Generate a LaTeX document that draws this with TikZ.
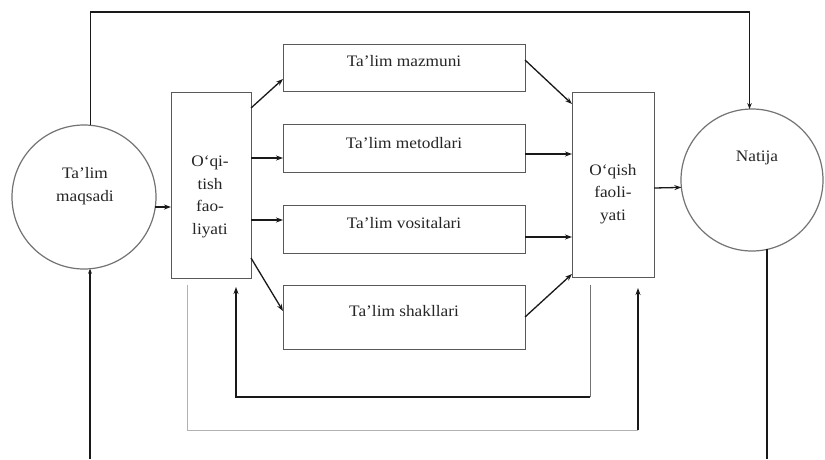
\documentclass[tikz,border=0pt]{standalone}
\usepackage{fontspec}
\setmainfont{Liberation Serif}[FakeStretch=1.08]
\usetikzlibrary{arrows.meta,calc}
\begin{document}
\begin{tikzpicture}[x=1pt,y=-1pt,
  txt/.style={font=\fontsize{16}{22.5}\selectfont, align=center, inner sep=0pt, text=black!85},
  boxn/.style={draw=black!65, line width=0.8pt, rectangle, inner sep=0pt, outer sep=0pt},
  circn/.style={draw=black!55, line width=1.2pt, circle, inner sep=0pt, outer sep=0pt, minimum size=144pt},
  conn/.style={draw=black!90, line width=1.3pt},
  arr/.style={conn, -{Stealth[length=7pt,width=5pt]}},
  light/.style={draw=black!30, line width=1pt},
  thin/.style={draw=black!55, line width=0.8pt}]
\useasboundingbox[fill=white] (0,0) rectangle (825,459);

% circles
\node[circn] (lc) at (84,197) {};
\node[circn, minimum size=142pt] (nt) at (752,180) {};

% boxes
\node[boxn, minimum width=80pt, minimum height=186pt] (lb) at (211,185) {};
\node[boxn, minimum width=82pt, minimum height=185pt] (rb) at (613,184.5) {};
\node[boxn, minimum width=242pt, minimum height=47pt] (m1) at (404,67.5) {};
\node[boxn, minimum width=242pt, minimum height=48pt] (m2) at (404,148) {};
\node[boxn, minimum width=242pt, minimum height=48pt] (m3) at (404,229) {};
\node[boxn, minimum width=242pt, minimum height=64pt] (m4) at (404,317) {};

% texts
\node[txt] (tlc) at (85,186) {Ta’lim\\maqsadi};
\node[txt] (tnt) at (757,158) {Natija};
\node[txt] (tlb) at (210,197) {O‘qi-\\tish\\fao-\\liyati};
\node[txt] (trb) at (613,194) {O‘qish\\faoli-\\yati};
\node[txt] (t1) at (404,61) {Ta’lim mazmuni};
\node[txt] (t2) at (404,143) {Ta’lim metodlari};
\node[txt] (t3) at (404,223) {Ta’lim vositalari};
\node[txt] (t4) at (404,311) {Ta’lim shakllari};

% main arrows
\draw[arr] (lc.-8) -- (lb.west |- lc.-8);
\draw[arr] (lb.east |- 0,108) -- (m1.west |- 0,79);
\draw[arr] (lb.east |- 0,158) -- (m2.west |- 0,158);
\draw[arr] (lb.east |- 0,220) -- (m3.west |- 0,220);
\draw[arr] (lb.east |- 0,258) -- (m4.west |- 0,311);
\draw[arr] (m1.east |- 0,60) -- (rb.west |- 0,104);
\draw[arr] (m2.east |- 0,154) -- (rb.west |- 0,154);
\draw[arr] (m3.east |- 0,237) -- (rb.west |- 0,237);
\draw[arr] (m4.east |- 0,317) -- (rb.west |- 0,274);
\draw[arr] (rb.east |- 0,188) -- (nt.186.5);

% top loop
\draw[conn, -{Stealth[length=6pt,width=4.5pt]}] (lc.85.2) -- (lc.85.2 |- 0,12) -| (nt.92.4);

% bottom verticals
\coordinate (bl) at (90,459);
\coordinate (br) at (767,459);
\draw[conn, -{Stealth[length=5pt,width=4pt]}] (bl) -- (bl |- lc.274.8);
\draw[conn] (br |- nt.-77.8) -- (br);

% feedback: rb -> lb
\coordinate (f1a) at (590,285);
\coordinate (f1b) at (236,287);
\draw[thin] (f1a) -- (f1a |- 0,397);
\draw[arr] (f1a |- 0,397) -| (f1b);

% feedback: lb -> rb
\coordinate (f2a) at (187,285);
\coordinate (f2b) at (638,288);
\draw[light] (f2a) |- (f2b |- 0,430);
\draw[arr] (f2b |- 0,430) -- (f2b);
\end{tikzpicture}
\end{document}
